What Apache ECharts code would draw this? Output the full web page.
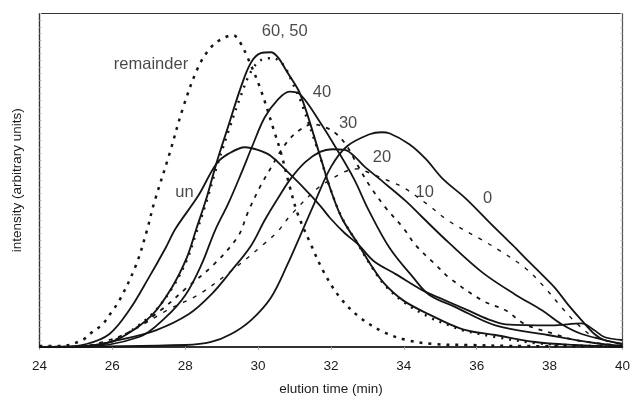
<!DOCTYPE html>
<html>
<head>
<meta charset="utf-8">
<script src="https://cdn.jsdelivr.net/npm/echarts@6/dist/echarts.min.js"></script>
<style>
html,body{margin:0;padding:0;background:#fff;}
#chart{width:633px;height:401px;}
</style>
</head>
<body>
<div id="chart"></div>
<script>
// x ticks
var xMin = 24, xMax = 40, xStep = 2;

// curves: [elution time (min), intensity (arb.)]
var remainder = [[24,0.3],[24.6,0.3],[25.18,2.1],[25.45,4.5],[25.73,6.8],[25.97,10.4],[26.19,13.9],[26.65,24.6],[26.95,35.0],[27.14,43.0],[27.55,57.3],[27.95,72.1],[28.36,84.0],[28.71,89.9],[29.04,92.6],[29.31,93.5],[29.5,91.4],[29.72,86.6],[30.07,77.2],[30.45,64.4],[30.62,58.5],[30.86,48.4],[31.08,40.1],[31.43,31.2],[31.81,22.3],[32.25,14.8],[32.79,8.9],[33.44,4.5],[34.07,2.1],[34.8,0.9],[35.78,0.6],[37,0.3],[40,0.2]];
var un = [[24,0],[24.56,0],[25.29,0.9],[25.92,3.9],[26.46,11.0],[27.0,20.8],[27.46,29.7],[27.74,35.6],[28.36,45.4],[28.85,54.9],[29.18,57.9],[29.64,59.9],[29.99,59.1],[30.35,57.3],[30.81,52.5],[31.27,47.5],[31.7,42.4],[31.98,38.6],[32.38,34.1],[32.76,30.6],[33.17,25.8],[33.8,21.7],[34.53,16.9],[34.96,14.8],[35.7,11.3],[36.32,8.3],[36.79,6.8],[38.06,6.5],[38.88,7.1],[39.23,5.0],[39.5,3.0],[40,2.1]];
var s60 = [[24,0],[24.9,0],[25.73,0.9],[26.27,3.0],[27.08,9.5],[27.63,17.8],[28.04,26.7],[28.31,35.6],[28.58,44.5],[28.85,54.9],[29.18,66.2],[29.53,78.0],[29.8,85.2],[30.07,88.1],[30.35,88.4],[30.54,86.9],[30.81,82.2],[31.16,75.7],[31.7,57.3],[31.98,47.5],[32.3,38.6],[32.76,30.6],[33.06,25.2],[33.44,19.3],[33.99,13.9],[34.69,9.8],[35.62,5.3],[36.51,3.6],[37.6,1.5],[38.69,0.6],[40,0]];
var s50 = [[24,0],[24.9,0],[25.73,0.9],[26.27,3.2],[27.08,9.8],[27.63,17.5],[28.04,26.0],[28.31,34.5],[28.58,43.5],[28.85,53.5],[29.18,64.5],[29.53,75.5],[29.8,82.5],[30.07,86.0],[30.4,86.6],[30.7,84.5],[30.95,79.0],[31.16,74.0],[31.7,57.0],[31.98,47.5],[32.3,38.8],[32.76,30.5],[33.06,25.0],[33.44,19.0],[33.99,13.5],[34.69,9.0],[35.24,6.5],[35.62,5.0],[36.51,3.0],[37.6,1.2],[38.69,0.5],[40,0]];
var s40 = [[24,0],[25.1,0],[26.73,3.0],[27.46,8.9],[28.01,15.7],[28.44,24.6],[28.82,35.0],[29.18,43.0],[29.53,51.9],[29.86,60.8],[30.18,68.8],[30.54,74.2],[30.86,76.6],[31.16,75.7],[31.7,67.4],[32.16,59.3],[32.63,50.4],[33.04,40.9],[33.61,29.7],[34.26,20.8],[34.69,15.7],[35.43,11.9],[36.51,6.5],[37.95,3.6],[39.23,1.2],[40,0.3]];
var s30 = [[24,0],[25,0],[25.73,1.5],[26.46,4.5],[27.36,11.3],[28.01,17.5],[28.77,24.6],[29.45,33.2],[29.72,40.4],[30.07,48.4],[30.35,53.7],[30.62,58.8],[30.86,62.3],[31.13,65.0],[31.49,66.8],[31.84,65.9],[32.16,63.8],[32.44,60.2],[32.71,54.9],[33.06,48.4],[33.52,41.5],[33.99,35.6],[34.34,30.3],[34.88,24.6],[35.24,20.8],[36.16,13.9],[36.79,11.0],[37.33,6.8],[38.14,3.9],[38.69,2.1],[40,0.3]];
var s20 = [[24,0],[25.3,0.3],[26.19,2.1],[27.19,5.0],[28.09,9.8],[28.71,15.7],[29.26,22.8],[29.8,30.3],[30.18,38.0],[30.54,44.5],[30.89,50.4],[31.3,55.5],[31.7,58.5],[32.03,59.3],[32.38,59.1],[32.63,57.3],[32.9,54.3],[33.33,50.4],[34.07,43.6],[34.48,39.2],[35.24,31.2],[36.16,22.3],[37.06,15.7],[37.79,11.0],[38.33,6.8],[38.88,3.9],[40,0.9]];
var s10 = [[24,0],[25,0.2],[25.64,0.6],[26.38,3.9],[27.55,11.3],[28.36,15.7],[29.26,22.8],[30.13,30.6],[30.54,34.7],[30.89,39.5],[31.62,47.5],[31.98,50.1],[32.36,52.5],[32.71,53.4],[33.06,52.2],[33.52,50.1],[33.99,47.8],[34.69,42.4],[35.24,37.7],[36.16,32.0],[36.6,29.1],[37.33,23.7],[37.87,17.8],[38.33,11.9],[38.77,6.8],[39.23,3.0],[40,0.9]];
var s0 = [[24,0],[28.01,0.6],[28.71,1.5],[29.26,3.9],[29.8,8.0],[30.35,14.8],[30.8,24.6],[31.16,33.5],[31.54,43.0],[32.0,54.0],[32.44,60.2],[33.06,63.8],[33.39,64.4],[33.6,64.1],[34.15,60.8],[34.6,56.4],[35.07,50.4],[35.7,44.5],[36.32,37.7],[36.98,30.6],[37.41,25.8],[37.79,21.7],[38.14,17.8],[38.5,12.8],[38.88,8.0],[39.23,3.9],[39.5,2.1],[40,0.9]];

// curve labels: [time, intensity, text]
var curveLabels = [[27.06,84.6,'remainder'],[30.73,94.7,'60, 50'],[31.75,76.3,'40'],[32.47,67.0,'30'],[33.4,56.8,'20'],[34.57,46.3,'10'],[36.3,44.5,'0'],[27.98,46.3,'un']];

var INK = '#151515';
var FONT = 'Liberation Sans';
function lineSeries(name, data, width, type, z) {
  return {
    name: name, type: 'line', data: data, showSymbol: false, symbol: 'none',
    smooth: 0.35, z: z || 2,
    lineStyle: { color: INK, width: width, type: type, cap: 'butt' },
    animation: false
  };
}

var chart = echarts.init(document.getElementById('chart'), null, { renderer: 'canvas' });
chart.setOption({
  animation: false,
  backgroundColor: '#fff',
  grid: { left: 39.5, right: 4, top: 13.5, bottom: 51, show: true, borderColor: '#333', borderWidth: 1.2 },
  xAxis: {
    type: 'value', min: xMin, max: xMax, interval: xStep,
    name: 'elution time (min)', nameLocation: 'middle', nameGap: 35,
    nameTextStyle: { fontFamily: FONT, fontSize: 13.5, color: '#1a1a1a' },
    axisLine: { show: true, lineStyle: { color: '#111', width: 1.5 } },
    axisTick: { show: true, length: 3, lineStyle: { color: '#aaa' } },
    axisLabel: { fontFamily: FONT, fontSize: 13.5, color: '#1a1a1a', margin: 12 },
    splitLine: { show: false }
  },
  yAxis: [{
    type: 'value', min: 0, max: 100, interval: 2,
    name: 'intensity (arbitrary units)', nameLocation: 'middle', nameGap: 15, nameRotate: 90,
    nameTextStyle: { fontFamily: FONT, fontSize: 13.5, color: '#1a1a1a' },
    axisLine: { show: true, lineStyle: { color: '#333', width: 1.2 } },
    axisTick: { show: true, inside: true, length: 2, lineStyle: { color: '#bbb' } },
    axisLabel: { show: false },
    splitLine: { show: false }
  }, {
    type: 'value', min: 0, max: 100, interval: 2, position: 'right',
    axisLine: { show: true, lineStyle: { color: '#555', width: 1 } },
    axisTick: { show: true, inside: true, length: 2, lineStyle: { color: '#bbb' } },
    axisLabel: { show: false },
    splitLine: { show: false }
  }],
  series: [
    lineSeries('remainder', remainder, 2.5, [3, 6], 3),
    lineSeries('un', un, 1.8, 'solid'),
    lineSeries('60', s60, 1.9, 'solid'),
    lineSeries('50', s50, 2.4, [2, 6], 3),
    lineSeries('40', s40, 1.8, 'solid'),
    lineSeries('30', s30, 1.8, [4, 6], 3),
    lineSeries('20', s20, 1.8, 'solid'),
    lineSeries('10', s10, 1.4, [4, 7], 3),
    lineSeries('0', s0, 1.8, 'solid'),
    {
      name: 'labels', type: 'scatter', data: curveLabels, symbolSize: 0, z: 5,
      label: {
        show: true, position: 'inside', formatter: function (p) { return p.data[2]; },
        fontFamily: FONT, fontSize: 16.5, color: '#1a1a1a'
      },
      silent: true, animation: false
    }
  ]
});
</script>
</body>
</html>
